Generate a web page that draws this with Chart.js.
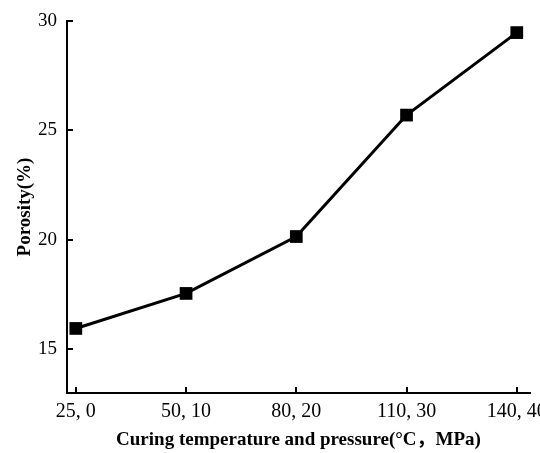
<!DOCTYPE html>
<html>
<head>
<meta charset="utf-8">
<script src="https://cdn.jsdelivr.net/npm/chart.js@4.4.0/dist/chart.umd.min.js"></script>
<style>
    html, body { margin: 0; padding: 0; background: #ffffff; }
    #wrap { width: 540px; height: 453px; }
</style>
</head>
<body>
<div id="wrap"><canvas id="chart"></canvas></div>
<script>
// Curing conditions (temperature °C, pressure MPa)
const categories = ['25, 0', '50, 10', '80, 20', '110, 30', '140, 40'];
const porosity = [15.95, 17.55, 20.15, 25.7, 29.47];
const yTicks = [15, 20, 25, 30];

const points = categories.map((_, i) => ({ x: i, y: porosity[i] }));
const serif = '"Liberation Serif", "Noto Sans CJK SC", serif';

new Chart(document.getElementById('chart'), {
    type: 'line',
    data: {
        datasets: [{
            data: points,
            borderColor: '#000000',
            borderWidth: 3,
            backgroundColor: '#000000',
            pointStyle: 'rect',
            pointRadius: 9,
            pointHoverRadius: 9,
            pointBorderWidth: 0,
            tension: 0,
        }],
    },
    options: {
        responsive: true,
        maintainAspectRatio: false,
        animation: false,
        layout: { padding: { top: 21, right: 10, left: 0, bottom: 0 } },
        plugins: {
            legend: { display: false },
            tooltip: { enabled: false },
        },
        scales: {
            x: {
                type: 'linear',
                min: -0.08,
                max: 4.12,
                afterBuildTicks: (scale) => {
                    scale.ticks = categories.map((_, i) => ({ value: i }));
                },
                afterFit: (scale) => {
                    scale.height = 60;
                    scale.paddingLeft = 0;
                    scale.paddingRight = 0;
                },
                border: { display: true, color: '#000000', width: 2 },
                grid: { drawOnChartArea: false, drawTicks: true, tickLength: -6, color: '#000000', lineWidth: 2 },
                ticks: {
                    autoSkip: false,
                    maxRotation: 0,
                    padding: 13,
                    color: '#000000',
                    font: { family: serif, size: 20 },
                    callback: (value) => categories[value],
                },
                title: {
                    display: true,
                    text: 'Curing temperature and pressure(°C，MPa)',
                    color: '#000000',
                    font: { family: serif, size: 19, weight: 'bold' },
                    padding: { top: 0, bottom: 2 },
                },
            },
            y: {
                min: 13,
                max: 30,
                afterBuildTicks: (scale) => {
                    scale.ticks = yTicks.map(v => ({ value: v }));
                },
                afterFit: (scale) => {
                    scale.width = 67;
                    scale.paddingTop = 0;
                    scale.paddingBottom = 0;
                },
                border: { display: true, color: '#000000', width: 2 },
                grid: { drawOnChartArea: false, drawTicks: true, tickLength: -6, color: '#000000', lineWidth: 2 },
                ticks: {
                    padding: 16,
                    color: '#000000',
                    font: { family: serif, size: 19 },
                },
                title: {
                    display: true,
                    text: 'Porosity(%)',
                    color: '#000000',
                    font: { family: serif, size: 19, weight: 'bold' },
                    padding: { top: 14, bottom: 0 },
                },
            },
        },
    },
});
</script>
</body>
</html>
